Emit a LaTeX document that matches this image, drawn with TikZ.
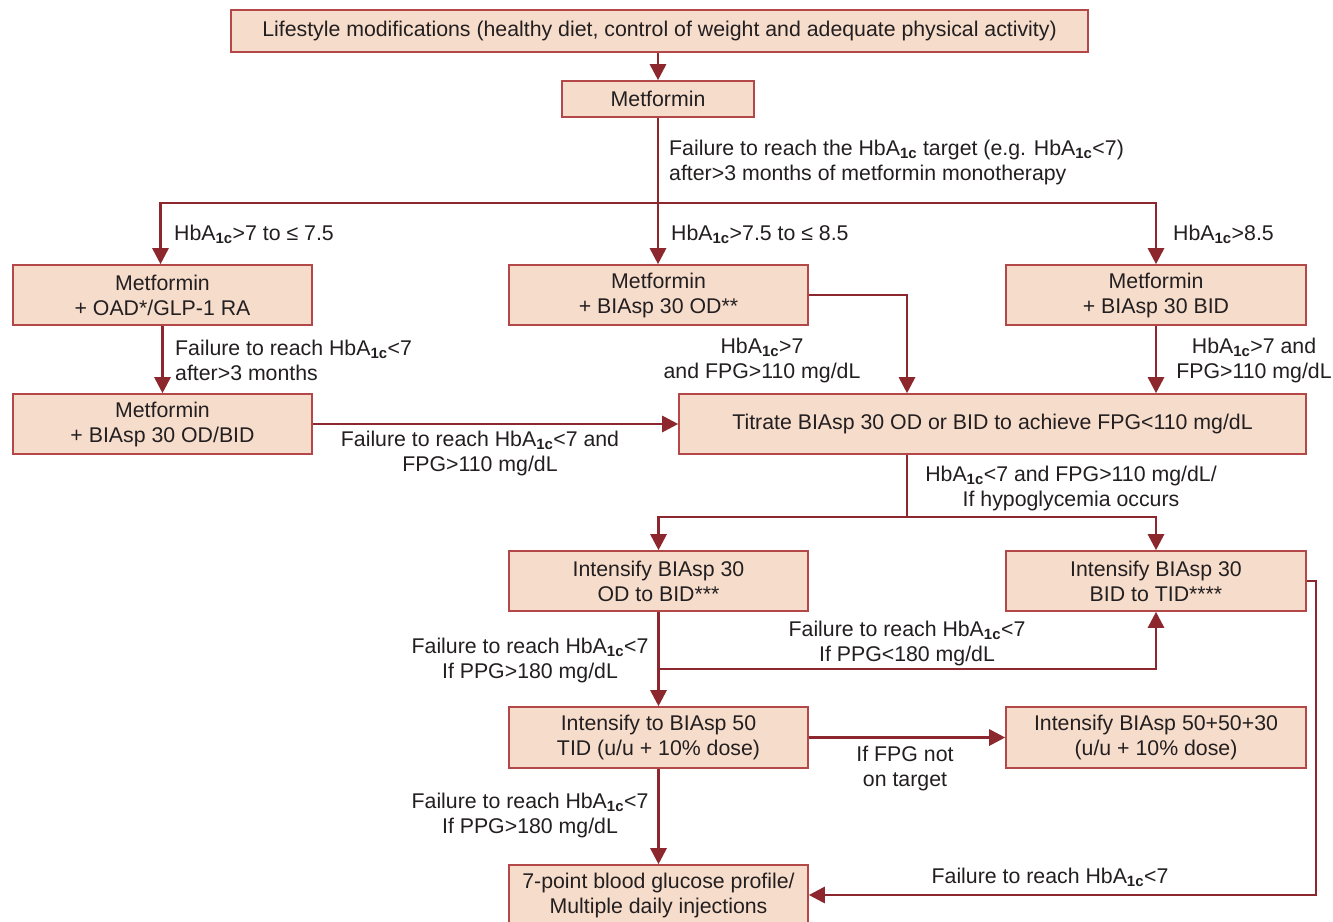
\documentclass[tikz,border=0pt]{standalone}
\usepackage{fontspec}
\setmainfont{Liberation Sans}
\usetikzlibrary{arrows.meta}
\definecolor{boxfill}{RGB}{246,220,203}
\definecolor{boxline}{RGB}{180,72,72}
\definecolor{arrcol}{RGB}{140,40,45}
\definecolor{txt}{RGB}{35,31,32}
\newcommand{\hba}{HbA\textsubscript{\bfseries 1c}}
\begin{document}
\begin{tikzpicture}[x=1pt,y=-1pt,
  font=\fontsize{21.3}{25}\selectfont, text=txt,
  box/.style={draw=boxline, line width=1.6pt, fill=boxfill, inner sep=0pt, align=center},
  arr/.style={draw=arrcol, line width=2.8pt, -{Triangle[length=16pt,width=16pt]}},
  ln/.style={draw=arrcol, line width=2.8pt},
  lbl/.style={inner sep=0pt, align=center},
  lbll/.style={inner sep=0pt, align=left, anchor=west}]
\useasboundingbox[fill=white] (0,0) rectangle (1333,921);
% boxes
\node[box, minimum width=857pt, minimum height=42pt] (life) at (659.5,31) {Lifestyle modifications (healthy diet, control of weight and adequate physical activity)};
\node[box, minimum width=192pt, minimum height=36pt] (met) at (658,99) {Metformin};
\node[box, minimum width=299pt, minimum height=60pt] (a1) at (162.5,295) {Metformin\\+ OAD*/GLP-1 RA};
\node[box, minimum width=299pt, minimum height=60pt] (a2) at (658.5,295) {Metformin\\+ BIAsp 30 OD**};
\node[box, minimum width=300pt, minimum height=60pt] (a3) at (1156,295) {Metformin\\+ BIAsp 30 BID};
\node[box, minimum width=299pt, minimum height=60pt] (b1) at (162.5,424) {Metformin\\+ BIAsp 30 OD/BID};
\node[box, minimum width=627pt, minimum height=60pt] (tit) at (992.5,424) {Titrate BIAsp 30 OD or BID to achieve FPG<110 mg/dL};
\node[box, minimum width=299pt, minimum height=60pt] (c1) at (658.5,581) {Intensify BIAsp 30\\OD to BID***};
\node[box, minimum width=300pt, minimum height=60pt] (c2) at (1156,581) {Intensify BIAsp 30\\BID to TID****};
\node[box, minimum width=299pt, minimum height=61pt] (d1) at (658.5,737.5) {Intensify to BIAsp 50\\TID (u/u + 10\% dose)};
\node[box, minimum width=300pt, minimum height=61pt] (d2) at (1156,737.5) {Intensify BIAsp 50+50+30\\(u/u + 10\% dose)};
\node[box, minimum width=299pt, minimum height=60pt] (e) at (658.5,895) {7-point blood glucose profile/\\Multiple daily injections};
% split points
\coordinate (s1) at (658,203);
\coordinate (s2) at (907,517);
\coordinate (s3) at (658.5,669);
\coordinate (rt) at (1316,581);
% connectors
\draw[arr] (met.north |- life.south) -- (met.north);
\draw[arr] (met.south) -- (met.south |- a2.north);
\draw[arr] (s1) -| ([xshift=-2pt]a1.north);
\draw[arr] (s1) -| (a3.north);
\draw[arr] (a1.south) -- (b1.north);
\draw[arr] (a2.east) -| (s2 |- tit.north);
\draw[arr] (a3.south) -- (a3.south |- tit.north);
\draw[arr] (b1.east) -- (tit.west);
\draw[ln] (s2 |- tit.south) -- (s2);
\draw[arr] (s2) -| (c1.north);
\draw[arr] (s2) -| (c2.north);
\draw[arr] (c1.south) -- (d1.north);
\draw[arr] (s3) -| (c2.south);
\draw[arr] (d1.east) -- (d2.west);
\draw[arr] (d1.south) -- (e.north);
\draw[arr] (c2.east) -- (rt) |- (e.east);
% labels
\node[lbll] (l1) at (669,162.5) {Failure to reach the \hba{} target (e.g. \hba<7)\\after>3 months of metformin monotherapy};
\node[lbll] (l2) at (174,234) {\hba>7 to ≤ 7.5};
\node[lbll] (l3) at (671,234) {\hba>7.5 to ≤ 8.5};
\node[lbll] (l4) at (1173,234) {\hba>8.5};
\node[lbll] (l5) at (175,360) {Failure to reach \hba<7\\after>3 months};
\node[lbl] (l6) at (762,360) {\hba>7\\and FPG>110 mg/dL};
\node[lbl] (l7) at (1254,360) {\hba>7 and\\FPG>110 mg/dL};
\node[lbl] (l8) at (480,453.5) {Failure to reach \hba<7 and\\FPG>110 mg/dL};
\node[lbl] (l9) at (1071,488.5) {\hba<7 and FPG>110 mg/dL/\\If hypoglycemia occurs};
\node[lbl] (l10) at (907,643.5) {Failure to reach \hba<7\\If PPG<180 mg/dL};
\node[lbl] (l11) at (530,660) {Failure to reach \hba<7\\If PPG>180 mg/dL};
\node[lbl] (l12) at (905,768.5) {If FPG not\\on target};
\node[lbl] (l13) at (530,815) {Failure to reach \hba<7\\If PPG>180 mg/dL};
\node[lbl] (l14) at (1050,877) {Failure to reach \hba<7};
\end{tikzpicture}
\end{document}
